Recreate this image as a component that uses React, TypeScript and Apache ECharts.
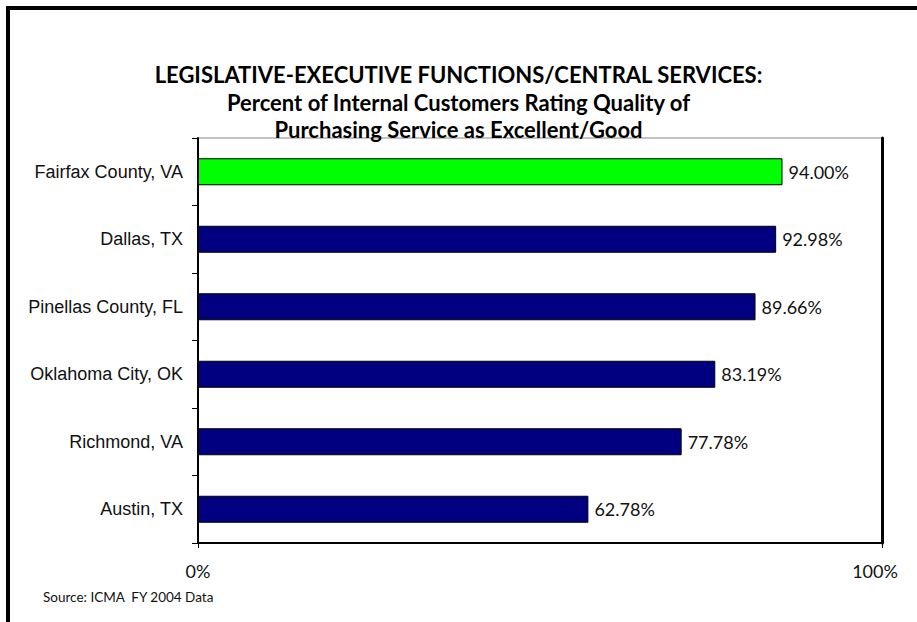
import React, { useEffect, useRef } from "react";
import * as echarts from "echarts";

const categories = [
  "Fairfax County, VA",
  "Dallas, TX",
  "Pinellas County, FL",
  "Oklahoma City, OK",
  "Richmond, VA",
  "Austin, TX",
];
const values = [94.0, 92.98, 89.66, 83.19, 77.78, 62.78];
const barColors = ["#00FF00", "#000080", "#000080", "#000080", "#000080", "#000080"];
const axisMax = 110;
const xTickLabels: Record<number, string> = { 0: "0%", 110: "100%" };
const titleLines = [
  "LEGISLATIVE-EXECUTIVE FUNCTIONS/CENTRAL SERVICES:",
  "Percent of Internal Customers Rating Quality of",
  "Purchasing Service as Excellent/Good",
];
const sourceText = "Source: ICMA  FY 2004 Data";

export default function App() {
  const ref = useRef<HTMLDivElement>(null);
  useEffect(() => {
    document.body.style.margin = "0";
    const chart = echarts.init(ref.current!, null, { renderer: "svg" });
    chart.setOption({
      animation: false,
      backgroundColor: "#fff",
      title: {
        text: titleLines.join("\n"),
        left: "center",
        top: 56,
        textStyle: {
          fontFamily: "Lato",
          fontWeight: "bold",
          fontSize: 22,
          lineHeight: 27.5,
          color: "#000",
        },
      },
      grid: {
        left: 198,
        right: 35,
        top: 138,
        bottom: 79,
        show: true,
        borderColor: "#888",
        borderWidth: 1,
        containLabel: false,
      },
      xAxis: {
        type: "value",
        min: 0,
        max: axisMax,
        interval: axisMax,
        splitLine: { show: false },
        axisLine: { show: true, lineStyle: { color: "#000", width: 2 } },
        axisTick: { show: true, length: 5, lineStyle: { color: "#000" } },
        axisLabel: {
          margin: 19,
          fontFamily: "Lato",
          fontSize: 18,
          color: "#111",
          formatter: (v: number) =>
            v === axisMax ? "{r|" + (xTickLabels[v] ?? "") + "}" : xTickLabels[v] ?? "",
          rich: {
            r: { fontFamily: "Lato", fontSize: 18, color: "#111", padding: [0, 14, 0, 0] },
          },
        },
      },
      yAxis: [
        {
          type: "category",
          data: categories,
          inverse: true,
          axisLine: { show: true, lineStyle: { color: "#000", width: 2 } },
          axisTick: { show: true, length: 6, lineStyle: { color: "#000" } },
          axisLabel: {
            margin: 15,
            fontFamily: "Liberation Sans",
            fontSize: 18,
            color: "#111",
          },
        },
        {
          type: "category",
          data: categories,
          inverse: true,
          position: "right",
          axisLine: { show: true, lineStyle: { color: "#000", width: 3 } },
          axisTick: { show: false },
          axisLabel: { show: false },
        },
      ],
      series: [
        {
          type: "bar",
          data: values.map((v, i) => ({
            value: v,
            itemStyle: { color: barColors[i], borderColor: "#000", borderWidth: 1 },
          })),
          barCategoryGap: "60%",
          label: {
            show: true,
            position: "right",
            distance: 6,
            fontFamily: "Lato",
            fontSize: 18,
            color: "#111",
            formatter: (p: any) => p.value.toFixed(2) + "%",
          },
        },
      ],
      graphic: [
        {
          type: "line",
          shape: { x1: 6, y1: 8, x2: 917, y2: 8 },
          style: { stroke: "#000", lineWidth: 4 },
        },
        {
          type: "line",
          shape: { x1: 8, y1: 6, x2: 8, y2: 622 },
          style: { stroke: "#000", lineWidth: 4 },
        },
        {
          type: "text",
          left: 43,
          top: 590,
          style: {
            text: sourceText,
            fontFamily: "Lato",
            fontSize: 13.5,
            fill: "#111",
          },
        },
      ],
    });
    return () => chart.dispose();
  }, []);
  return <div ref={ref} style={{ width: 917, height: 622 }} />;
}
